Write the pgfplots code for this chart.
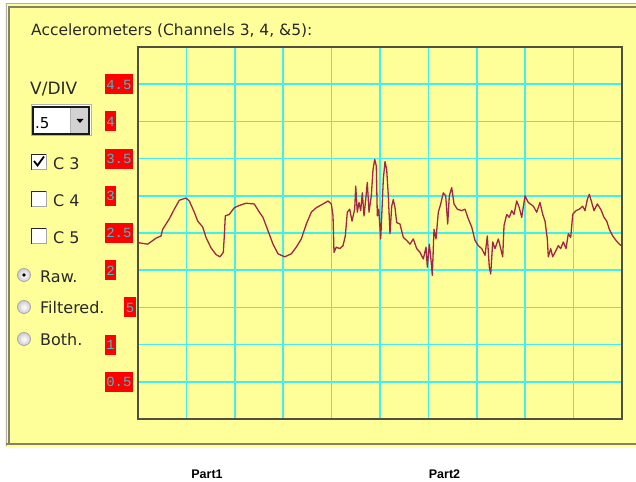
\documentclass[border=0pt]{standalone}
\usepackage{pgfplots}
\pgfplotsset{compat=1.18}
\usepackage{fontspec}
\setmainfont{DejaVu Sans}
\newfontfamily\labfont{Liberation Mono}
\newfontfamily\partfont{Liberation Sans}

\definecolor{panelyellow}{RGB}{255,255,153}
\definecolor{gridcyan}{RGB}{64,240,240}
\definecolor{framecol}{RGB}{80,80,64}
\definecolor{labred}{RGB}{255,0,0}
\definecolor{labcyan}{RGB}{64,190,200}
\definecolor{sigcol}{RGB}{160,40,70}
\definecolor{txtcol}{RGB}{40,40,40}
\definecolor{bordercol}{RGB}{130,130,100}

% red tick boxes, left or right aligned in a 31bp slot
\newcommand{\lbl}[1]{{\setlength{\fboxsep}{0pt}\colorbox{labred}{\rule[-5bp]{0pt}{20bp}\hspace{1.5bp}\textcolor{labcyan}{\fontsize{14bp}{16bp}\labfont #1}\hspace{1.5bp}}}}
\newcommand{\labl}[1]{\makebox[31bp][l]{\lbl{#1}}}
\newcommand{\labr}[1]{\makebox[31bp][r]{\lbl{#1}}}

\begin{document}
\begin{tikzpicture}
\begin{scope}[x=1bp,y=1bp]
  \useasboundingbox (0,0) rectangle (636,482);
  \fill[white] (0,0) rectangle (636,482);
  % panel
  \fill[panelyellow] (5,35) rectangle (636,479);
  \draw[bordercol!60, line width=1bp] (6,36) -- (6,478) -- (636,478);
  \draw[bordercol, line width=1.2bp] (9,39) -- (9,475) -- (636,475);
  \draw[bordercol, line width=1.5bp] (6,38) -- (636,38);
  % title
  \node[anchor=base west, text=txtcol, inner sep=0pt, font=\fontsize{15.5bp}{18bp}\selectfont] at (31,446) {Accelerometers (Channels 3, 4, \&5):};
  % V/DIV selector
  \node[anchor=base west, text=txtcol, inner sep=0pt, font=\fontsize{17bp}{19bp}\selectfont] at (30,387) {V/DIV};
  \draw[gray!60, fill=white, line width=1bp] (31,346) rectangle (91,377);
  \draw[gray!20!black, line width=1.2bp] (33,348) rectangle (89,375);
  \fill[gray!35] (70,349) rectangle (88,374);
  \draw[gray!60] (70,349) -- (70,374);
  \fill[black] (76.5,363) -- (83.5,363) -- (80,359) -- cycle;
  \node[anchor=base west, text=black, inner sep=0pt, font=\fontsize{15bp}{18bp}\selectfont] at (35,353) {.5};
  % check boxes
  \foreach \yb/\lab in {312/C 3,275/C 4,238/C 5}{
    \fill[white] (31,\yb) rectangle ++(15.5,15.5);
    \draw[gray!70, line width=1bp] (31,\yb) rectangle ++(15.5,15.5);
    \draw[gray!30!black, line width=1bp] (31.5,\yb) -- ++(0,15) -- ++(14.5,0);
    \node[anchor=base west, text=txtcol, inner sep=0pt, font=\fontsize{16bp}{19bp}\selectfont] at (53,{\yb+0.7}) {\lab};
  }
  \draw[black, line width=1.8bp] (34,321) -- (37.5,316.5) -- (44,325.5);
  % radio buttons
  \foreach \yc/\yt/\lab in {207/199.3/Raw.,175/168.7/Filtered.,143/136/Both.}{
    \shade[inner color=white, outer color=gray!40] (24,\yc) circle (6.5);
    \draw[gray!70, line width=0.8bp] (24,\yc) circle (6.5);
    \node[anchor=base west, text=txtcol, inner sep=0pt, font=\fontsize{16bp}{19bp}\selectfont] at (40,\yt) {\lab};
  }
  \fill[black] (24,207) circle (1.8);
  % parts under the panel
  \node[text=black, inner sep=0pt, font=\fontsize{12.5bp}{14bp}\partfont\bfseries] at (207,8) {Part1};
  \node[text=black, inner sep=0pt, font=\fontsize{12.5bp}{14bp}\partfont\bfseries] at (444.5,8) {Part2};
\end{scope}

\begin{axis}[
  at={(138bp,63bp)}, anchor=south west,
  scale only axis, width=484bp, height=372bp,
  xmin=0, xmax=484, ymin=0, ymax=5,
  xtick={48.4,96.8,145.2,193.6,242,290.4,338.8,387.2,435.6},
  xticklabels={},
  ytick={0.5,1,1.5,2,2.5,3,3.5,4,4.5},
  yticklabels={\labl{0.5},\labl{1},\labr{5},\labl{2},\labl{2.5},\labl{3},\labl{3.5},\labl{4},\labl{4.5}},
  yticklabel style={anchor=east, inner sep=0pt, xshift=-2bp},
  major tick length=0pt,
  grid=major,
  grid style={gridcyan, line width=1.5bp},
  axis line style={framecol, line width=1.5bp},
  axis background/.style={fill=panelyellow},
]
\addplot[sigcol, line width=1.3bp, line join=round] coordinates {
(0,2.37) (9.7,2.35) (18,2.43) (23,2.46) (24.7,2.55) (31.3,2.69) (36.3,2.82) (41.3,2.94) (48,2.97) (51.3,2.93)
(56.3,2.78) (59.7,2.66) (64.7,2.58) (68,2.44) (73,2.30) (78,2.21) (82,2.18) (85.3,2.24) (86.3,2.46) (87.3,2.73)
(91.3,2.75) (96.3,2.84) (101.3,2.87) (108,2.90) (116.3,2.89) (121.3,2.78) (125,2.71) (130,2.53) (135,2.35) (140,2.22)
(146.7,2.18) (153.3,2.22) (158.3,2.31) (163.3,2.42) (168.3,2.62) (173.3,2.78) (178.3,2.84) (185,2.89) (190,2.93) (193.3,2.89)
(195,2.73) (196,2.24) (198.3,2.31) (201.7,2.29) (205,2.33) (207.3,2.46) (209.3,2.78) (211.7,2.82) (214,2.66) (216.7,2.82)
(217.7,3.13) (219.3,2.78) (221,2.91) (222.7,2.80) (224.3,3.04) (226,2.73) (227.7,2.95) (229.3,3.18) (231,2.78) (233.3,3.00)
(235,3.35) (236.7,3.49) (238.3,3.40) (239.3,2.73) (240.7,2.82) (242.7,2.42) (245.3,3.22) (247,3.46) (248.7,3.35) (250.3,3.00)
(252,2.49) (253.7,2.86) (255.3,2.95) (257,2.84) (258.7,2.64) (262,2.62) (265.3,2.44) (268.7,2.40) (272,2.35) (275.3,2.42)
(278.7,2.29) (282,2.24) (285.3,2.15) (288,2.31) (289.3,2.04) (291.3,2.35) (292.7,2.18) (294.3,1.93) (296,2.55) (298,2.42)
(300.3,2.78) (302.7,2.89) (305.3,3.04) (307.7,3.00) (309.7,2.62) (311.3,3.00) (313.7,3.11) (316,2.89) (319.3,2.82) (323.7,2.80)
(327,2.82) (330.3,2.69) (333.7,2.58) (337,2.40) (340.3,2.33) (343.7,2.29) (347,2.20) (349.3,2.46) (351.3,2.04) (352.7,1.95)
(354.7,2.38) (357,2.29) (360.3,2.42) (362,2.33) (364.7,2.18) (366,2.60) (368.7,2.75) (371.3,2.71) (373.7,2.80) (376,2.75)
(378.7,2.93) (381.3,2.84) (383.7,2.71) (387,3.00) (390.3,2.91) (395.3,2.86) (398.7,2.78) (402,2.91) (404.7,2.75) (407,2.66)
(409.3,2.42) (410.3,2.18) (412.7,2.29) (414.7,2.18) (417,2.24) (420.3,2.33) (422.7,2.29) (425.3,2.38) (428,2.29) (430.3,2.49)
(432.7,2.44) (434.7,2.75) (438,2.80) (441.3,2.82) (444.7,2.86) (447,2.80) (449.3,2.95) (451.3,3.02) (453.7,2.91) (456,2.80)
(459.3,2.89) (462.7,2.82) (466,2.71) (468.7,2.66) (471.3,2.55) (474.7,2.46) (478,2.40) (481.3,2.35) (483.3,2.33)
};
\end{axis}
\end{tikzpicture}
\end{document}
